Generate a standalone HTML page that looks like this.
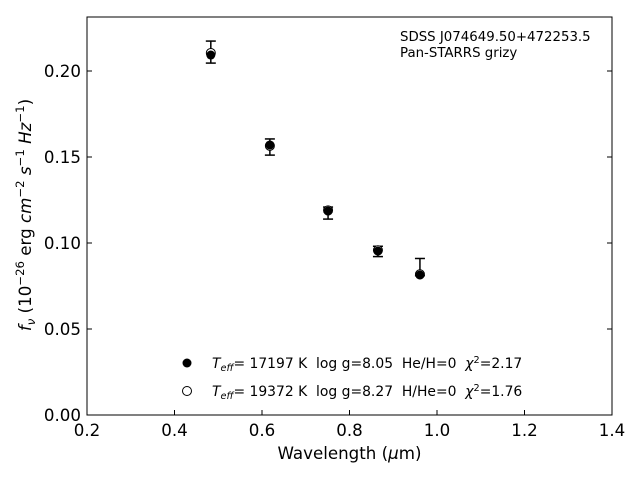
<!DOCTYPE html>
<html><head><meta charset="utf-8"><style>
body{margin:0;background:#fff;}
svg text{font-family:"DejaVu Sans","Liberation Sans",sans-serif;white-space:pre;}
</style></head><body>
<svg id="chart" width="640" height="480" xmlns="http://www.w3.org/2000/svg" xml:space="preserve">
<rect x="87" y="17" width="525" height="398" fill="#fff" stroke="#000" stroke-width="1"/>
<g id="ticks"></g>
<g id="marks"></g>
<text x="349.5" y="459" font-size="16.67" text-anchor="middle">Wavelength (<tspan font-style="italic">μ</tspan>m)</text>
<text transform="translate(31,215) rotate(-90)" font-size="16.67" text-anchor="middle"><tspan font-style="italic">f</tspan><tspan font-style="italic" font-size="11.7" dy="4">ν</tspan><tspan dy="-4"> (10</tspan><tspan font-size="11.7" dy="-7">−26</tspan><tspan dy="7"> erg </tspan><tspan font-style="italic">cm</tspan><tspan font-size="11.7" dy="-7">−2</tspan><tspan dy="7"> </tspan><tspan font-style="italic">s</tspan><tspan font-size="11.7" dy="-7">−1</tspan><tspan dy="7"> </tspan><tspan font-style="italic">Hz</tspan><tspan font-size="11.7" dy="-7">−1</tspan><tspan dy="7">)</tspan></text>
<text x="400" y="41" font-size="13.33">SDSS J074649.50+472253.5</text>
<text x="400" y="57" font-size="13.33">Pan-STARRS grizy</text>
<g>
<circle cx="187" cy="363" r="4.5" fill="#000"/>
<text x="212" y="368" font-size="13.9"><tspan font-style="italic">T</tspan><tspan font-style="italic" font-size="9.7" dy="3">eff</tspan><tspan dy="-3">= 17197 K  log g=8.05  He/H=0  </tspan><tspan font-style="italic">χ</tspan><tspan font-size="9.7" dy="-5">2</tspan><tspan dy="5">=2.17</tspan></text>
<circle cx="187" cy="391" r="4.5" fill="#fff" stroke="#000"/>
<text x="212" y="396" font-size="13.9"><tspan font-style="italic">T</tspan><tspan font-style="italic" font-size="9.7" dy="3">eff</tspan><tspan dy="-3">= 19372 K  log g=8.27  H/He=0  </tspan><tspan font-style="italic">χ</tspan><tspan font-size="9.7" dy="-5">2</tspan><tspan dy="5">=1.76</tspan></text>
</g>
</svg>
<script>
const wavelengths=[0.483,0.618,0.751,0.865,0.961];
const observed=[0.211,0.1558,0.1174,0.0951,0.086];
const obsErr=[0.0064,0.0047,0.0035,0.003,0.005];
const modelHe=[0.2093,0.1570,0.1186,0.0953,0.0814];
const modelH=[0.2105,0.1565,0.1190,0.0958,0.0818];
const xTicks=[0.2,0.4,0.6,0.8,1.0,1.2,1.4];
const xTickLabels=["0.2","0.4","0.6","0.8","1.0","1.2","1.4"];
const yTicks=[0,0.05,0.10,0.15,0.20];
const yTickLabels=["0.00","0.05","0.10","0.15","0.20"];
const X0=87,X1=612,Y0=415,Y1=17;
const sx=v=>X0+(v-0.2)/1.2*(X1-X0);
const sy=v=>Y0-v/0.2314*(Y0-Y1);
const NS="http://www.w3.org/2000/svg";
function mk(tag,attrs,parent){const e=document.createElementNS(NS,tag);for(const k in attrs)e.setAttribute(k,attrs[k]);parent.appendChild(e);return e;}
const tg=document.getElementById('ticks'),mg=document.getElementById('marks');
xTicks.forEach((t,i)=>{const x=sx(t);
 const l=mk('line',{x1:x,x2:x,y1:Y0,y2:Y0-5,stroke:'#000'},tg);
 
 
 const tx=mk('text',{x:x,y:Y0+21,'font-size':16.67,'text-anchor':'middle'},tg);tx.textContent=xTickLabels[i];
 
 });
yTicks.forEach((t,i)=>{const y=sy(t);
 const l=mk('line',{x1:X0,x2:X0+5,y1:y,y2:y,stroke:'#000'},tg);
 
 
 const l2=mk('line',{x1:X1,x2:X1-5,y1:y,y2:y,stroke:'#000'},tg);
 
 
 const tx=mk('text',{x:X0-6,y:y+6,'font-size':16.67,'text-anchor':'end'},tg);tx.textContent=yTickLabels[i];
 
 });
wavelengths.forEach((w,i)=>{const x=sx(w);
 const g=mk('g',{},mg);
 
 
 const a=sy(observed[i]+obsErr[i]),b=sy(observed[i]-obsErr[i]);
 mk('line',{x1:x,x2:x,y1:a,y2:b,stroke:'#000','stroke-width':1.5},g);
 mk('line',{x1:x-5,x2:x+5,y1:a,y2:a,stroke:'#000','stroke-width':1.5},g);
 mk('line',{x1:x-5,x2:x+5,y1:b,y2:b,stroke:'#000','stroke-width':1.5},g);
 const c1=mk('circle',{cx:x,cy:sy(modelH[i]),r:4.5,fill:'#fff',stroke:'#000'},mg);
 
 
 const c2=mk('circle',{cx:x,cy:sy(modelHe[i]),r:4.5,fill:'#000'},mg);
 
 });
</script>
</body></html>
